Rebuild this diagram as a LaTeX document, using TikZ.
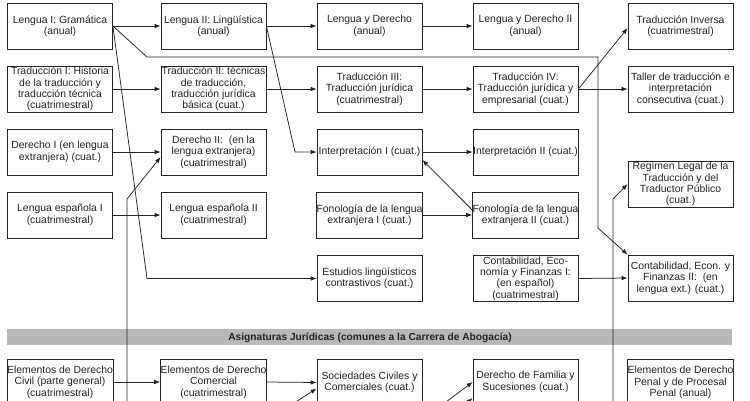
\documentclass[tikz,border=0pt]{standalone}
\usepackage{fontspec}
\setmainfont{Liberation Sans}
\usetikzlibrary{arrows.meta,calc}
\definecolor{band}{RGB}{184,184,184}
\definecolor{ink}{RGB}{35,35,35}
\begin{document}
\begin{tikzpicture}[x=1pt,y=-1pt,
  box/.style={draw=ink, line width=0.75pt, minimum width=105pt, minimum height=46pt, inner sep=0pt, align=center, font=\fontsize{10.4}{11.4}\selectfont, text=ink},
  arr/.style={draw=ink, line width=0.75pt, -{Latex[length=6pt,width=4.5pt]}},
  bandtext/.style={font=\fontsize{10.2}{12}\selectfont\bfseries, text=ink, inner sep=0pt}]
\useasboundingbox (0,0) rectangle (750,400);
\clip (0,0) rectangle (750,400);
\fill[white] (0,0) rectangle (750,400);
% band
\fill[band] (7,329) rectangle (732,345);
\node[bandtext] (band) at (370,337.5) {Asignaturas Jurídicas (comunes a la Carrera de Abogacía)};
% row 1
\node[box] (l1) at (60,26) {Lengua I: Gramática\\(anual)};
\node[box] (l2) at (213.5,26) {Lengua II: Lingüística\\(anual)};
\node[box] (ld) at (369.5,26) {Lengua y Derecho\\(anual)};
\node[box] (ld2) at (525.5,26) {Lengua y Derecho II\\(anual)};
\node[box] (ti) at (680.5,26) {Traducción Inversa\\(cuatrimestral)};
% row 2
\node[box] (t1) at (60,89) {Traducción I: Historia\\de la traducción y\\traducción técnica\\(cuatrimestral)};
\node[box] (t2) at (213.5,89) {Traducción II: técnicas\\de traducción,\\traducción jurídica\\básica (cuat.)};
\node[box] (t3) at (369.5,89) {Traducción III:\\Traducción jurídica\\(cuatrimestral)};
\node[box] (t4) at (525.5,89) {Traducción IV:\\Traducción jurídica y\\empresarial (cuat.)};
\node[box] (ta) at (680.5,89) {Taller de traducción e\\interpretación\\consecutiva (cuat.)};
% row 3
\node[box] (d1) at (60,152) {Derecho I (en lengua\\extranjera) (cuat.)};
\node[box] (d2) at (213.5,152) {Derecho II:\ \ (en la\\lengua extranjera)\\(cuatrimestral)};
\node[box] (i1) at (369.5,152) {Interpretación I (cuat.)};
\node[box] (i2) at (525.5,152) {Interpretación II (cuat.)};
\node[box] (rg) at (680.5,184) {Regímen Legal de la\\Traducción y del\\Traductor Público\\(cuat.)};
% row 4
\node[box] (le1) at (60,215) {Lengua española I\\(cuatrimestral)};
\node[box] (le2) at (213.5,215) {Lengua española II\\(cuatrimestral)};
\node[box] (f1) at (369.5,215) {Fonología de la lengua\\extranjera I (cuat.)};
\node[box] (f2) at (525.5,215) {Fonología de la lengua\\extranjera II (cuat.)};
% row 5
\node[box] (el) at (369.5,278.5) {Estudios lingüísticos\\contrastivos (cuat.)};
\node[box] (c1) at (525.5,278.5) {Contabilidad, Eco-\\nomía y Finanzas I:\\(en español)\\(cuatrimestral)};
\node[box] (c2) at (680.5,278) {Contabilidad, Econ. y\\Finanzas II:\ \ (en\\lengua ext.) (cuat.)};
% bottom row
\node[box] (ec) at (60,382) {Elementos de Derecho\\Civil (parte general)\\(cuatrimestral)};
\node[box] (em) at (213.5,382) {Elementos de Derecho\\Comercial\\(cuatrimestral)};
\node[box] (so) at (369.5,382.5) {Sociedades Civiles y\\Comerciales (cuat.)};
\node[box] (df) at (525.5,382) {Derecho de Familia y\\Sucesiones (cuat.)};
\node[box] (ep) at (680.5,382.5) {Elementos de Derecho\\Penal y de Procesal\\Penal (anual)};
% coordinates
\coordinate (b1) at (147,57);
\coordinate (b2) at (598,57);
\coordinate (b2b) at (598,228);
\coordinate (b3) at (147,278.5);
\coordinate (b4) at (295,152);
\coordinate (s1) at (127,430);
\coordinate (b5) at (127,199);
\coordinate (s2) at (613,430);
\coordinate (b6) at (613,199);
\coordinate (s3) at (266,421);
\coordinate (s4) at (422,420);
\coordinate (s5) at (440,426);
% connectors
\draw[arr] (l1.east) -- (l2.west);
\draw[arr] (l2.east) -- (ld.west);
\draw[arr] (ld.east) -- (ld2.west);
\draw[arr] (l1.east) -- (b1) -- (b2) -- (b2b) -- (c2.north west);
\draw[arr] (l1.east) -- (b3) -- (el.west);
\draw[arr] (l2.east) -- (b4) -- (i1.west);
\draw[arr] (t1.east) -- (t2.west);
\draw[arr] (t2.east) -- (t3.west);
\draw[arr] (t3.east) -- (t4.west);
\draw[arr] (t4.east) -- ($(ti.west)+(0,2)$);
\draw[arr] (t4.east) -- (ta.west);
\draw[arr] (d1.east) -- (d2.west);
\draw[arr] (s1) -- (b5) -- ($(d2.west)+(0,5)$);
\draw[arr] (le1.east) -- (le2.west);
\draw[arr] (i1.east) -- (i2.west);
\draw[arr] (f1.east) -- (f2.west);
\draw[arr] ($(f2.west)+(0,-5)$) -- ($(i1.east)+(0,8)$);
\draw[arr] (c1.east) -- (c2.west);
\draw[arr] (s2) -- (b6) -- (rg.west);
\draw[arr] (ec.east) -- (em.west);
\draw[arr] (em.east) -- (so.west);
\draw[arr] (s3) -- ($(so.west)+(0,6)$);
\draw[arr] (s4) -- (df.west);
\draw[arr] (s5) -- ($(df.west)+(0,16)$);
\end{tikzpicture}
\end{document}
